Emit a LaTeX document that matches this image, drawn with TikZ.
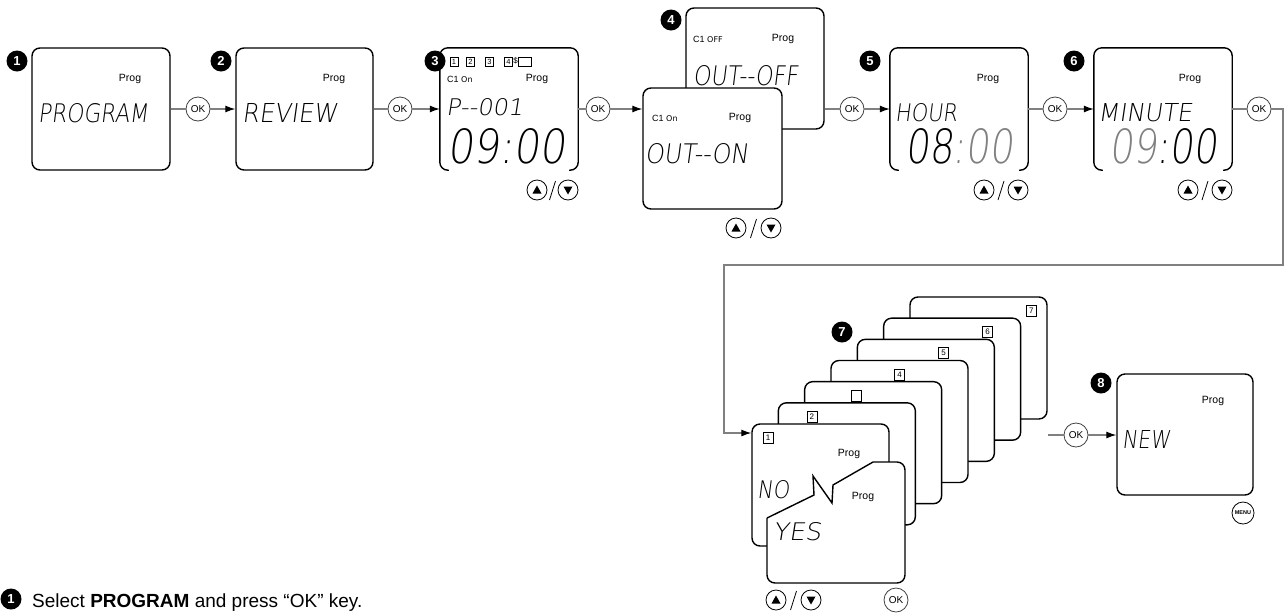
\documentclass[tikz,border=0pt]{standalone}
\usepackage{fontspec}
\usepackage{graphicx}
\setmainfont{Liberation Sans}
\IfFontExistsTF{DejaVu Sans ExtraLight}
  {\newfontfamily\lcdfont{DejaVu Sans ExtraLight}[FakeSlant=0.15]}
  {\newfontfamily\lcdfont{DejaVu Sans}[FakeSlant=0.15]}
\newfontfamily\lcdsmall{DejaVu Sans}
\usetikzlibrary{arrows.meta}
\newcommand\fs[1]{\fontsize{#1}{#1}\selectfont}
\newcommand\lcdt[3]{\resizebox{#1pt}{#2pt}{\lcdfont #3}}
\definecolor{lgray}{HTML}{808080}
\definecolor{dimseg}{HTML}{808080}
\tikzset{
  scr/.style={draw=black, line width=1.4pt, rounded corners=8pt},
  screen/.style={scr, fill=white, inner sep=0pt, minimum width=#1, minimum height=122pt},
  screen/.default=138pt,
  hold/.style={inner sep=0pt, minimum width=138pt, minimum height=122pt},
  badge/.style={circle, fill=black, text=white, inner sep=0pt, minimum size=21pt, font=\bfseries\fs{13}},
  okb/.style={circle, draw=black!75, line width=0.8pt, fill=white, inner sep=0pt, minimum size=24pt, font=\fs{10}},
  gline/.style={draw=lgray, line width=1.1pt},
  garrow/.style={gline, -{Latex[length=10pt,width=7pt,color=black]}},
  prog/.style={inner sep=0pt, font=\fs{10.5}},
  lcdn/.style={inner sep=0pt, anchor=base west},
  lbox/.style={draw, line width=0.6pt, fill=white, inner sep=0pt, minimum width=10pt, minimum height=11pt, font=\fs{8}},
  sbox/.style={draw, line width=0.5pt, inner sep=0pt, minimum width=8pt, minimum height=9.5pt, font=\fs{7.5}},
  arrb/.style={circle, draw, line width=0.8pt, fill=white, inner sep=0pt, minimum size=20pt},
  small/.style={inner sep=0pt, font=\fs{9}},
  pics/updown/.style={code={
    \node[arrb] (-u) at (0,0) {};
    \node[arrb] (-d) at (#1,0) {};
    \fill (0,-4.5) -- (4.5,3.5) -- (-4.5,3.5) -- cycle;
    \fill (#1,4.5) -- (#1+4.5,-3.5) -- (#1-4.5,-3.5) -- cycle;
    \draw[line width=0.8pt] (#1/2-3,10) -- (#1/2+3,-9);
  }},
  pics/updown/.default=32,
}
\begin{document}
\begin{tikzpicture}[x=1pt,y=-1pt]
\useasboundingbox (0,0) rectangle (1285,614);

% ---------- screen 1
\node[screen] (s1) at (101,109) {};
\node[badge] (b1) at (17,61) {1};
\node[prog] (p1) at (130,79) {Prog};
\node[lcdn] (t1) at (38,122) {\lcdt{110}{19}{PROGRAM}};

% ---------- screen 2
\node[screen=137pt] (s2) at (304.5,109) {};
\node[badge] (b2) at (221,61) {2};
\node[prog] (p2) at (334,79) {Prog};
\node[lcdn] (t2) at (242,122) {\lcdt{95}{19}{REVIEW}};

% ---------- screen 3
\node[hold] (s3) at (509,109) {};
\draw[scr] ([xshift=9pt]s3.south west) -- (s3.south west) -- (s3.north west) -- (s3.north east) -- (s3.south east) -- ([xshift=-9pt]s3.south east);
\node[badge] (b3) at (435,61) {3};
\node[sbox] (q1) at (454,61.5) {1};
\node[sbox] (q2) at (470.5,61.5) {2};
\node[sbox] (q3) at (489.5,61.5) {3};
\node[sbox] (q4) at (508.5,61.5) {4};
\node[small, font=\fs{8}] (qd) at (515.5,60.5) {\$};
\node[sbox, minimum width=13pt] (q5) at (525,61.5) {};
\node[small, anchor=west] (c3) at (447,79) {C1 {\fs{8}\lcdsmall On}};
\node[prog] (p3) at (537,79) {Prog};
\node[lcdn] (t3a) at (446,115) {\lcdt{77}{17}{P--001}};
\node[lcdn] (t3b) at (447,163) {\lcdt{118}{35}{09:00}};
\pic (ud3) at (537,190) {updown=31};

% ---------- screen 4
\node[screen, minimum height=121pt] (s4b) at (755,68.5) {};
\node[badge] (b4) at (671,20) {4};
\node[small, anchor=west] (c4b) at (693,39) {C1 {\fs{8}\lcdsmall OFF}};
\node[prog] (p4b) at (783,39) {Prog};
\node[lcdn] (t4b) at (693,85) {\lcdt{105}{20}{OUT--OFF}};
\node[screen=139pt, minimum height=121pt] (s4f) at (712.5,148.5) {};
\node[small, anchor=west] (c4f) at (652,118) {C1 {\fs{8}\lcdsmall On}};
\node[prog] (p4f) at (740,118) {Prog};
\node[lcdn] (t4f) at (645,163) {\lcdt{103}{20}{OUT--ON}};
\pic (ud4) at (736,228) {updown=35};

% ---------- screen 5
\node[hold] (s5) at (959,109) {};
\draw[scr] ([xshift=9pt]s5.south west) -- (s5.south west) -- (s5.north west) -- (s5.north east) -- (s5.south east) -- ([xshift=-9pt]s5.south east);
\node[badge] (b5) at (870,61) {5};
\node[prog] (p5) at (988,79) {Prog};
\node[lcdn] (t5a) at (895,121) {\lcdt{62}{18}{HOUR}};
\node[lcdn] (t5b) at (905,163) {\lcdt{108}{35}{08\textcolor{dimseg}{:00}}};
\pic (ud5) at (984,190) {updown=34};

% ---------- screen 6
\node[hold] (s6) at (1163,109) {};
\draw[scr] ([xshift=9pt]s6.south west) -- (s6.south west) -- (s6.north west) -- (s6.north east) -- (s6.south east) -- ([xshift=-9pt]s6.south east);
\node[badge] (b6) at (1074,61) {6};
\node[prog] (p6) at (1190,79) {Prog};
\node[lcdn] (t6a) at (1098,121) {\lcdt{94}{18}{MINUTE}};
\node[lcdn] (t6b) at (1109,163) {\lcdt{108}{35}{\textcolor{dimseg}{09}:00}};
\pic (ud6) at (1188,190) {updown=34};

% ---------- OK buttons of the top row
\node[okb] (ok1) at (198,109) {OK};
\node[okb] (ok2) at (400,109) {OK};
\node[okb] (ok3) at (598,109) {OK};
\node[okb] (ok4) at (852,109) {OK};
\node[okb] (ok5) at (1055,109) {OK};
\node[okb] (ok6) at (1259,109) {OK};

% ---------- screen 7 (stack of day cards)
\foreach \k/\lab in {7/7,6/6,5/5,4/4,3/{},2/2} {
  \node[screen=137pt] (c\k) at ({820.5+26.33*(\k-1)},{485-21.17*(\k-1)}) {};
  \node[lbox] (l\k) at ({768+43.9*(\k-1)},{438-21.2*(\k-1)}) {\lab};
}
\node[screen=137pt] (c1) at (820.5,485) {};
\node[lbox] (l1) at (768,438) {1};
\node[prog] (p7a) at (849,454) {Prog};
\node[lcdn] (t7a) at (757,498) {\lcdt{32}{18}{NO}};
\begin{scope}
  \clip (767,518) -- (814,495) -- (813,476) -- (832,503) -- (833,485) -- (873,462) -- (873,440) -- (930,440) -- (930,600) -- (740,600) -- (740,518) -- cycle;
  \node[screen, minimum height=121pt] (cy) at (836,522.5) {};
\end{scope}
\draw[line width=1.4pt, line join=miter] (767,518) -- (814,495) -- (813,476) -- (832,503) -- (833,485) -- (873,462);
\node[prog] (p7b) at (863,497) {Prog};
\node[lcdn] (t7b) at (773,540) {\lcdt{48}{18}{YES}};
\node[badge] (b7) at (842,332) {7};
\pic (ud7) at (776,600) {updown=35};
\node[okb] (ok7) at (896,600) {OK};

% ---------- screen 8
\node[screen=136pt, minimum height=121pt] (s8) at (1185,434.5) {};
\node[badge] (b8) at (1101,383) {8};
\node[prog] (p8) at (1213,401) {Prog};
\node[lcdn] (t8) at (1122,448) {\lcdt{48}{18}{NEW}};
\node[okb] (ok8) at (1076,435) {OK};
\node[circle, draw, line width=0.8pt, inner sep=0pt, minimum size=22pt, font=\bfseries\fs{5.5}] (menu) at (1243,513) {MENU};

% ---------- connectors
\draw[gline] (s1.east) -- (ok1);
\draw[garrow] (ok1) -- (s2.west);
\draw[gline] (s2.east) -- (ok2);
\draw[garrow] (ok2) -- (s3.west);
\draw[gline] (s3.east) -- (ok3);
\draw[garrow] (ok3) -- (s4f.west |- ok3);
\draw[gline] (s4b.east |- ok4) -- (ok4);
\draw[garrow] (ok4) -- (s5.west);
\draw[gline] (s5.east) -- (ok5);
\draw[garrow] (ok5) -- (s6.west);
\coordinate (k1) at (1283,265);
\coordinate (k2) at (724,433);
\draw[gline] (s6.east) -- (ok6);
\draw[garrow] (ok6.east) -| (k1) -| (k2) -- (c1.west |- k2);
\coordinate (k8) at (1048,435);
\draw[gline] (k8) -- (ok8);
\draw[garrow] (ok8) -- (s8.west |- ok8);

% ---------- caption
\node[badge] (bc) at (11,599) {1};
\node[inner sep=0pt, anchor=base west, font=\fs{19}] (cap) at (32,607) {Select \textbf{PROGRAM} and press “OK” key.};
\end{tikzpicture}
\end{document}
